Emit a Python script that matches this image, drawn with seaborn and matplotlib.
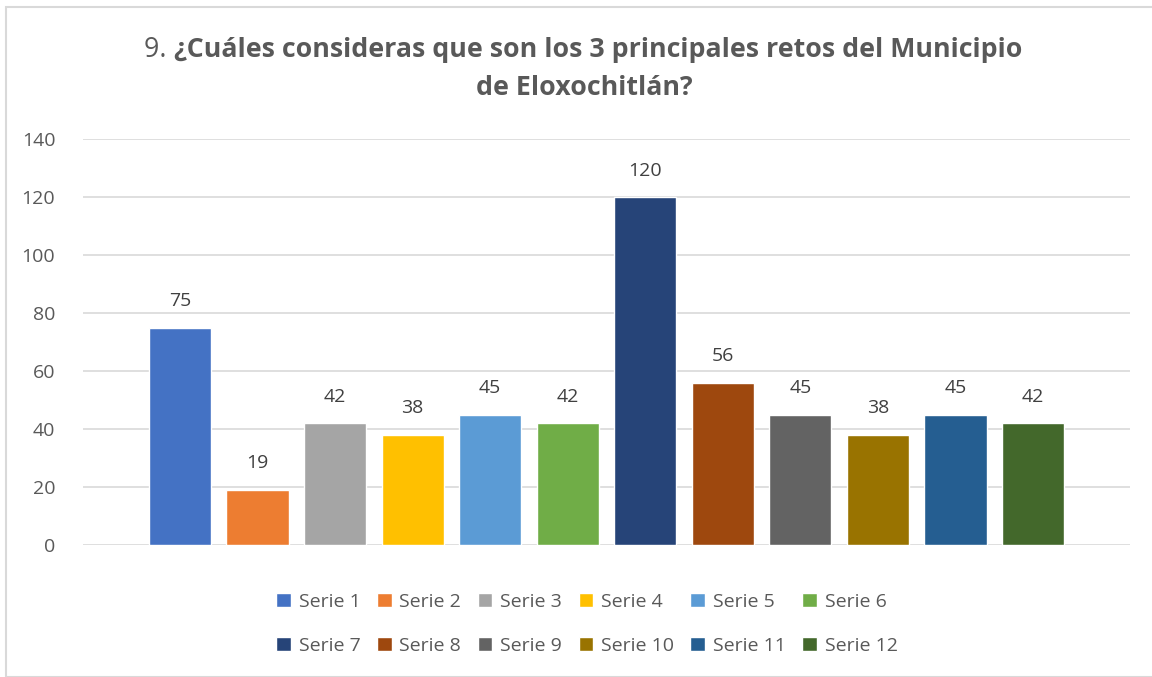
import pandas as pd
import matplotlib
matplotlib.use("Agg")
import matplotlib.pyplot as plt
import seaborn as sns
from matplotlib.patches import Rectangle, Patch

# datos
series = ['Serie 1', 'Serie 2', 'Serie 3', 'Serie 4', 'Serie 5', 'Serie 6',
          'Serie 7', 'Serie 8', 'Serie 9', 'Serie 10', 'Serie 11', 'Serie 12']
valores = [75, 19, 42, 38, 45, 42, 120, 56, 45, 38, 45, 42]
colores = ['#4472C4', '#ED7D31', '#A5A5A5', '#FFC000', '#5B9BD5', '#70AD47',
           '#264478', '#9E480E', '#636363', '#997300', '#255E91', '#43682B']

df = pd.DataFrame({'serie': series, 'valor': valores})

sns.set_style("white")
plt.rcParams['font.family'] = ['Open Sans', 'DejaVu Sans']
gris = '#595959'

fig = plt.figure(figsize=(11.52, 6.77), dpi=100)
ax = fig.add_axes([83/1152, 132/677, (1130-83)/1152, 406/677])

sns.barplot(data=df, x='serie', y='valor', hue='serie', palette=colores,
            width=0.8, legend=False, ax=ax, saturation=1)

ax.set_ylim(0, 140)
ax.set_yticks(range(0, 141, 20))
ax.set_xlim(-1.25, 12.25)
ax.set_xticks([])
ax.set_xlabel('')
ax.set_ylabel('')
ax.grid(axis='y', color='#D9D9D9', linewidth=1.2)
ax.set_axisbelow(True)
for s in ['top', 'right', 'left', 'bottom']:
    ax.spines[s].set_visible(False)
ax.tick_params(axis='y', length=0, labelsize=14, labelcolor=gris, pad=20)

# etiquetas de datos
for i, v in enumerate(valores):
    ax.text(i, v + 6, str(v), ha='center', va='bottom', fontsize=14, color='#404040')

# leyenda (orden por filas)
handles = [Patch(facecolor=c, label=s) for c, s in zip(colores, series)]
orden = [0, 6, 1, 7, 2, 8, 3, 9, 4, 10, 5, 11]
fig.legend(handles=[handles[k] for k in orden], loc='center',
           bbox_to_anchor=(587/1152, 1 - 624/677),
           ncol=6, frameon=False, fontsize=14, labelcolor=gris,
           handlelength=0.75, handleheight=0.75, handletextpad=0.4,
           columnspacing=0.85, labelspacing=1.35)

# titulo en dos partes (numero normal + pregunta en negrita)
fig.canvas.draw()
r = fig.canvas.get_renderer()
t_num = fig.text(0, 1 - 50/677, '9. ', fontsize=19.3, color=gris, va='center')
t_txt = fig.text(0, 1 - 50/677, '¿Cuáles consideras que son los 3 principales retos del Municipio',
                 fontsize=19.3, color=gris, weight='bold', va='center')
w1 = t_num.get_window_extent(r).width
w2 = t_txt.get_window_extent(r).width
x0 = 583 - (w1 + w2) / 2
t_num.set_x(x0 / 1152)
t_txt.set_x((x0 + w1) / 1152)
fig.text(584/1152, 1 - 88/677, 'de Eloxochitlán?', fontsize=19.3, color=gris,
         weight='bold', ha='center', va='center')

# borde del grafico
fig.patches.append(Rectangle((6/1152, 0), 1.1, 1 - 7/677, transform=fig.transFigure,
                             fill=False, edgecolor='#D9D9D9', linewidth=1.5))

plt.savefig('out.png', dpi=100)
